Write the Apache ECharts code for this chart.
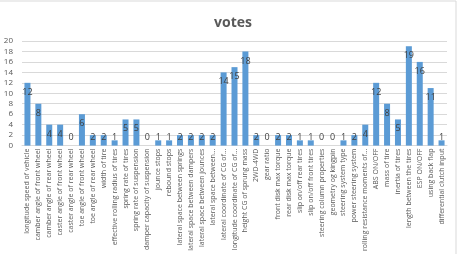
<!DOCTYPE html>
<html>
<head>
<meta charset="utf-8">
<script src="https://cdn.jsdelivr.net/npm/echarts@6/dist/echarts.min.js"></script>
<style>
html, body { margin: 0; padding: 0; background: #fff; }
#chart { width: 463px; height: 254px; }
</style>
</head>
<body>
<div id="chart"></div>
<script>
// 类目（横轴）
var categories = [
	'longitude speed of vehicle', 'camber angle of front wheel', 'camber angle of rear wheel',
	'caster angle of front wheel', 'caster angle of rear wheel', 'toe angle of front wheel',
	'toe angle of rear wheel', 'width of tire', 'effective rolling radius of tires',
	'spring rate of tires', 'spring rate of suspension', 'damper capacity of suspension',
	'jounce stops', 'rebound stops', 'lateral space between springs',
	'lateral space between dampers', 'lateral space between jounces', 'lateral space between...',
	'lateral coordinate of CG of...', 'longitude coordinate of CG of...', 'height CG of sprung mass',
	'2WD-4WD', 'gear ratio', 'front disk max torque', 'rear disk max torque',
	'slip on/off rear tires', 'slip on/off front tires', 'steering column properties',
	'geometry og kingpin', 'steering system type', 'power steering system',
	'rolling resistance moments of...', 'ABS ON/OFF', 'mass of tire', 'inertia of tires',
	'length between the tires', 'ESP ON/OFF', 'using back flap', 'differential clutch input'
];
// 票数
var votes = [12, 8, 4, 4, 0, 6, 2, 2, 1, 5, 5, 0, 1, 1, 2, 2, 2, 2, 14, 15, 18, 2, 0, 2, 2, 1, 1, 0, 0, 1, 2, 4, 12, 8, 5, 19, 16, 11, 1];
// 纵轴刻度
var yTicks = [0, 2, 4, 6, 8, 10, 12, 14, 16, 18, 20];

var chart = echarts.init(document.getElementById('chart'));

var barData = votes.map(function(v){
	// 矮柱子标签放底部，高柱子放顶部内侧
	if (v <= 2) {
		return { value: v, label: { position: 'insideBottom', distance: 4 } };
	}
	return { value: v, label: { position: 'insideTop', distance: 5 } };
});

var option = {
	animation: false,
	title: {
		text: 'votes',
		left: 228,
		textAlign: 'center',
		top: 11,
		textStyle: { fontSize: 14, fontWeight: 'bold', color: '#595959', fontFamily: 'Open Sans' }
	},
	graphic: [{
		type: 'rect',
		shape: { x: -2, y: 1, width: 458, height: 260 },
		style: { fill: 'none', stroke: '#d9d9d9', lineWidth: 1 },
		silent: true
	}],
	grid: { left: 22, right: 16, top: 41, bottom: 108 },
	xAxis: {
		type: 'category',
		data: categories,
		axisTick: { show: false },
		axisLine: { lineStyle: { color: '#d9d9d9' } },
		axisLabel: {
			interval: 0,
			rotate: 90,
			fontSize: 7,
			color: '#595959',
			margin: 3,
			fontFamily: 'Open Sans'
		}
	},
	yAxis: {
		type: 'value',
		min: yTicks[0],
		max: yTicks[yTicks.length - 1],
		interval: 2,
		axisLine: { show: false },
		axisTick: { show: false },
		axisLabel: { fontSize: 8, color: '#595959', margin: 9, fontFamily: 'Open Sans' },
		splitLine: { lineStyle: { color: '#d9d9d9' } }
	},
	series: [{
		name: 'votes',
		type: 'bar',
		barWidth: 6,
		data: barData,
		itemStyle: { color: '#5b9bd5' },
		label: {
			show: true,
			fontSize: 9,
			color: '#404040',
			fontFamily: 'Open Sans'
		}
	}]
};

chart.setOption(option);
</script>
</body>
</html>
